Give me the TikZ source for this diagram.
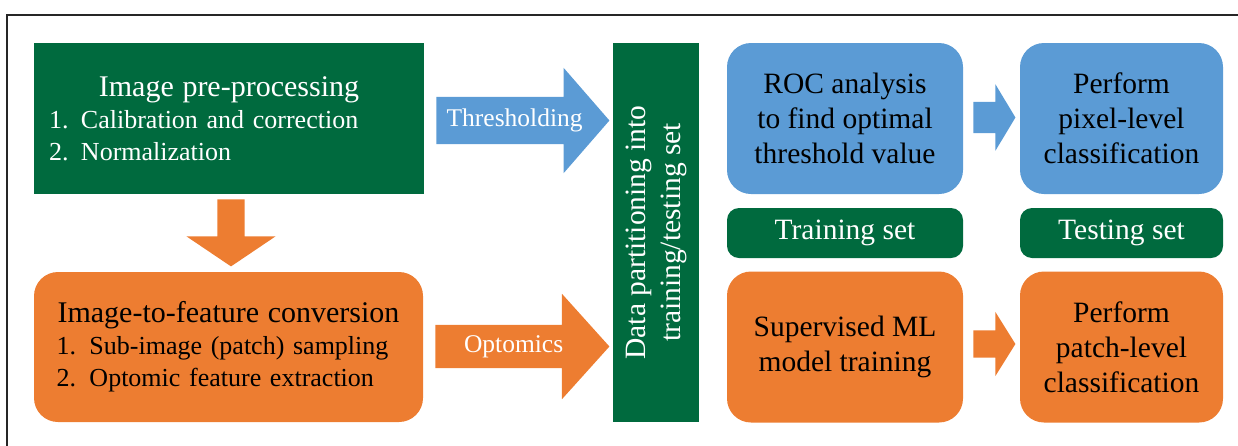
\documentclass[tikz,border=0pt]{standalone}
\usepackage{fontspec}
\setmainfont{Liberation Serif}
\usetikzlibrary{shapes.arrows, positioning}
\definecolor{pgreen}{RGB}{0,106,62}
\definecolor{pblue}{RGB}{91,155,213}
\definecolor{porange}{RGB}{237,125,49}

\begin{document}
\begin{tikzpicture}[x=1pt, y=-1pt,
  box/.style={inner sep=0pt, align=center, font=\fontsize{29.5}{35}\selectfont},
  stepbox/.style={inner ysep=0pt, text width=#1, font=\fontsize{26}{32}\selectfont},
  roundbox/.style={box, rounded corners=24pt, minimum height=151pt},
  setbox/.style={box, rounded corners=12pt, fill=pgreen, text=white, minimum height=50pt},
  fatarrow/.style={single arrow, inner xsep=0pt, text=white,
    font=\fontsize{25.5}{30}\selectfont, text height=17pt, text depth=5pt},
  smallarrow/.style={single arrow, inner xsep=0pt, text height=0pt, text depth=0pt,
    minimum width=0pt, minimum height=42pt, anchor=tail}]
  \useasboundingbox (0,0) rectangle (1238,445);
  % frame
  \draw[line width=2.5pt, black!85] (7,15) rectangle (1260,470);

  % left column
  \node[stepbox=360pt, fill=pgreen, text=white, minimum width=390pt, minimum height=151pt,
        inner xsep=15pt] (pre) at (229,118.5)
    {{\fontsize{30}{32}\selectfont\centering Image pre-processing\par}\raggedright
     \makebox[32pt][l]{1.}Calibration and correction\\
     \makebox[32pt][l]{2.}Normalization};
  \node[stepbox=344pt, fill=porange, rounded corners=24pt, minimum width=389pt,
        minimum height=150pt, inner xsep=22.5pt] (feat) at (228.5,347)
    {{\fontsize{30}{33}\selectfont\centering Image-to-feature conversion\par}\raggedright
     \makebox[33pt][l]{1.}Sub-image (patch) sampling\\
     \makebox[33pt][l]{2.}Optomic feature extraction};
  \node[single arrow, fill=porange, rotate=-90, anchor=tail, inner sep=13.5pt,
        text height=0pt, text depth=0pt, minimum width=0pt, minimum height=67pt,
        single arrow head extend=31pt, single arrow tip angle=112]
    (down) at ([xshift=2pt, yshift=-5pt]pre.south) {};

  % partition bar
  \node[box, fill=pgreen, text=white, rotate=90, minimum width=379pt, minimum height=86pt]
    (part) at (656,232.5) {Data partitioning into\\training/testing set};

  \node[fatarrow, fill=pblue, anchor=tail, inner ysep=12.5pt, minimum width=0pt,
        single arrow head extend=29pt, minimum height=173pt, single arrow tip angle=98]
    (thr) at ([xshift=12pt, yshift=-2pt]pre.east) {\hspace*{4pt}Thresholding};
  \node[fatarrow, fill=porange, anchor=tail, inner ysep=10.5pt, minimum width=0pt,
        single arrow head extend=31pt, minimum height=174pt, single arrow tip angle=96]
    (opt) at ([xshift=12pt, yshift=0.5pt]feat.east) {\hspace*{2pt}Optomics};

  % right columns
  \node[roundbox, fill=pblue, minimum width=236pt] (roc) at (845,118.5)
    {ROC analysis\\to find optimal\\threshold value};
  \node[roundbox, fill=pblue, minimum width=203pt] (pix) at (1121.5,118.5)
    {Perform\\pixel-level\\classification};
  \node[setbox, minimum width=236pt] (train) at (845,233) {Training set};
  \node[setbox, minimum width=203pt] (test) at (1121.5,233) {Testing set};
  \node[roundbox, fill=porange, minimum width=236pt] (ml) at (845,347)
    {Supervised ML\\model training};
  \node[roundbox, fill=porange, minimum width=203pt] (patch) at (1121.5,347)
    {Perform\\patch-level\\classification};

  \node[smallarrow, fill=pblue, inner ysep=15.5pt, single arrow head extend=17.5pt,
        single arrow tip angle=118] (a1) at ([xshift=10pt, yshift=1pt]roc.east) {};
  \node[smallarrow, fill=porange, inner ysep=13.5pt, single arrow head extend=18.5pt,
        single arrow tip angle=116] (a2) at ([xshift=10pt, yshift=3pt]ml.east) {};
\end{tikzpicture}
\end{document}
